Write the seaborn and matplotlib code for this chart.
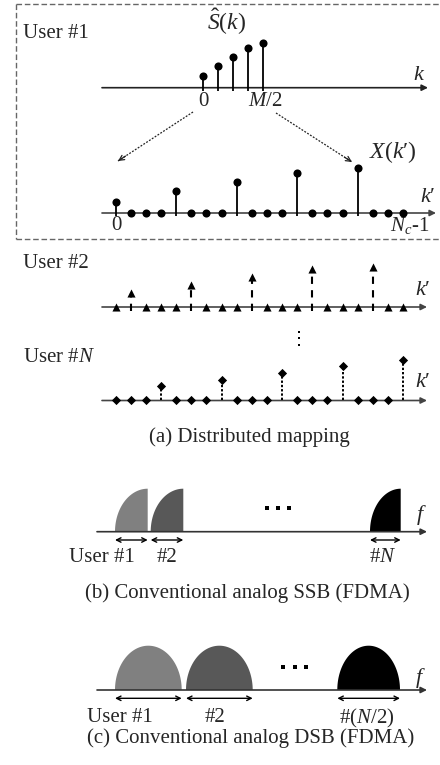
import numpy as np
import pandas as pd
import matplotlib
matplotlib.use("Agg")
import matplotlib.pyplot as plt
import seaborn as sns
from matplotlib.patches import Polygon

sns.set_theme(style="white")
plt.rcParams["font.family"] = ["Liberation Serif", "DejaVu Serif"]
plt.rcParams["mathtext.fontset"] = "custom"
plt.rcParams["mathtext.rm"] = "Liberation Serif"
plt.rcParams["mathtext.it"] = "Liberation Serif:italic"
plt.rcParams["mathtext.bf"] = "Liberation Serif:bold"

# ---------------- data ----------------
S_hat = [0.25, 0.49, 0.69, 0.89, 1.0]          # user #1 symbols k = 0..M/2
user2_vals = [0.31, 0.49, 0.67, 0.84, 0.88]     # user #2 symbols
userN_vals = [0.33, 0.46, 0.61, 0.77, 0.90]     # user #N symbols
n_sub = 20                                       # subcarriers k' = 0..Nc-1
n_users = 4                                      # interleave factor
user_offsets = [0, 1, 3]                         # user #1, #2, #N
ssb_labels = ["User #1", "#2", "#$N$"]
dsb_labels = ["User #1", "#2", "#($N$/2)"]
band_colors = ["#808080", "#585858", "#000000"]

W, H = 440, 765
fig = plt.figure(figsize=(W / 100, H / 100), dpi=100)

ov = fig.add_axes([0, 0, 1, 1])
ov.set_xlim(0, W)
ov.set_ylim(H, 0)
ov.axis("off")

UNIT = 45.0  # pixels per amplitude unit
KP = "$k$\u2032"   # k-prime label


def panel_axes(base_y, x0, dx, above=60, below=15):
    ax = fig.add_axes([0, 1 - (base_y + below) / H, 1, (above + below) / H])
    ax.set_xlim(-x0 / dx, (W - x0) / dx)
    ax.set_ylim(-below / UNIT, above / UNIT)
    ax.axis("off")
    return ax


def spread(vals, offset):
    v = np.zeros(n_sub)
    for i, s in enumerate(vals):
        v[n_users * i + offset] = s
    return v


def stems(ax, idx, vals, marker, size, ls, tick_all=0.0, tick_nz=0.0, lw=1.3):
    df = pd.DataFrame({"k": idx, "v": vals})
    nz = df[df.v > 0]
    ax.vlines(nz.k, -tick_nz / UNIT, nz.v, colors="black", linestyles=ls, lw=lw)
    if tick_all:
        ax.vlines(df.k, -tick_all / UNIT, 0, colors="black", lw=lw)
    sns.scatterplot(data=df, x="k", y="v", marker=marker, s=size, color="black",
                    edgecolor="black", linewidth=0, ax=ax, legend=False,
                    clip_on=False, zorder=4)


def axis_arrow(y, x0, x1, color="#222222"):
    ov.annotate("", xy=(x1, y), xytext=(x0, y),
                arrowprops=dict(arrowstyle="-|>", color=color, lw=1.2,
                                mutation_scale=9, shrinkA=0, shrinkB=0))


# ---------------- (a) distributed mapping ----------------
box = dict(color="#666666", lw=1.0, ls=(0, (4, 2)))
ov.plot([16, 440], [4, 4], **box)
ov.plot([16, 16], [4, 239], **box)
ov.plot([16, 440], [239, 239], **box)

ov.text(23, 33, "User #1", fontsize=15, va="center", ha="left")

# S_hat(k)
axis_arrow(87.7, 102, 428)
axS = panel_axes(87.7, 203, 15)
stems(axS, np.arange(len(S_hat)), S_hat, "o", 34, "-", tick_nz=3.5)
ov.text(227, 22, r"$\hat{S}(k)$", fontsize=17, ha="center", va="center")
ov.text(419, 75, r"$k$", fontsize=16, ha="center", va="center")
ov.text(203, 101, "0", fontsize=15, ha="center", va="center")
ov.text(265, 101, r"$M$/2", fontsize=15, ha="center", va="center")

# mapping arrows
for (x0, y0), (x1, y1) in [((193, 112), (118, 161)), ((276, 113), (352, 162))]:
    ov.plot([x0, x1], [y0, y1], color="#222222", lw=0.9, ls=(0, (1.5, 1.2)))
    dxv, dyv = x1 - x0, y1 - y0
    ov.annotate("", xy=(x1, y1), xytext=(x1 - 0.1 * dxv, y1 - 0.1 * dyv),
                arrowprops=dict(arrowstyle="->", color="#222222", lw=0.9,
                                mutation_scale=9, shrinkA=0, shrinkB=0))

# X(k') for user #1
axis_arrow(213, 102, 436, color="#444444")
axX = panel_axes(213, 115.7, 15.12)
stems(axX, np.arange(n_sub), spread(S_hat, user_offsets[0]), "o", 34, "-",
      tick_all=3.0)
ov.text(393, 152, "$X(k$\u2032$)$", fontsize=17, ha="center", va="center")
ov.text(428, 197, KP, fontsize=16, ha="center", va="center")
ov.text(116, 225, "0", fontsize=15, ha="center", va="center")
ov.text(410, 225, r"$N_c$-1", fontsize=15, ha="center", va="center")

# user #2
ov.text(23, 263, "User #2", fontsize=15, va="center", ha="left")
axis_arrow(307, 102, 427, color="#444444")
ax2 = panel_axes(307, 115.7, 15.12)
stems(ax2, np.arange(n_sub), spread(user2_vals, user_offsets[1]), "^", 34,
      (0, (3.5, 3)), tick_nz=3.5, lw=1.5)
ov.text(423, 290, KP, fontsize=16, ha="center", va="center")

# vertical ellipsis
ov.scatter([299.3] * 3, [331.7, 338.3, 345], marker="s", s=4, color="black", lw=0)

# user #N
ov.text(23, 357, "User #$N$", fontsize=15, va="center", ha="left")
axis_arrow(400.5, 102, 427, color="#444444")
axN = panel_axes(400.5, 115.7, 15.12)
stems(axN, np.arange(n_sub), spread(userN_vals, user_offsets[2]), "D", 22,
      (0, (1.2, 1.0)), lw=1.4)
ov.text(423, 382, KP, fontsize=16, ha="center", va="center")

ov.text(249, 437, "(a) Distributed mapping", fontsize=15, ha="center", va="center")

# ---------------- (b) SSB ----------------
yb = 531.7
axis_arrow(yb, 97, 427, color="#333333")
ssb_bands = [(115, 147.7), (150.7, 183.3), (370, 400.7)]
for (xl, xr), c in zip(ssb_bands, band_colors):
    t = np.linspace(0, np.pi / 2, 60)
    xs = xr - (xr - xl) * np.cos(t)
    ys = yb - 43 * np.sin(t)
    pts = np.column_stack([np.r_[xs, xr], np.r_[ys, yb]])
    ov.add_patch(Polygon(pts, closed=True, facecolor=c, edgecolor="none"))
    ov.annotate("", xy=(xr, 540), xytext=(xl, 540),
                arrowprops=dict(arrowstyle="<->", color="black", lw=1.0,
                                mutation_scale=8, shrinkA=0, shrinkB=0))
ov.text(102, 558, ssb_labels[0], fontsize=15, ha="center", va="center")
ov.text(167, 558, ssb_labels[1], fontsize=15, ha="center", va="center")
ov.text(383, 558, ssb_labels[2], fontsize=15, ha="center", va="center")
ov.scatter([266.7, 278.3, 289.3], [508.3] * 3, marker="s", s=8, color="black", lw=0)
ov.text(421, 515, r"$f$", fontsize=16, ha="center", va="center")
ov.text(247, 593, "(b) Conventional analog SSB (FDMA)", fontsize=15,
        ha="center", va="center")

# ---------------- (c) DSB ----------------
yc = 690
axis_arrow(yc, 97, 427, color="#333333")
dsb_bands = [(115, 181.7), (186, 252.7), (337.3, 400)]
for (xl, xr), c in zip(dsb_bands, band_colors):
    t = np.linspace(0, np.pi, 100)
    xm, a = (xl + xr) / 2, (xr - xl) / 2
    xs = xm - a * np.cos(t)
    ys = yc - 44.3 * np.sin(t)
    ov.add_patch(Polygon(np.column_stack([xs, ys]), closed=True, facecolor=c,
                         edgecolor="none"))
    ov.annotate("", xy=(xr, 698.3), xytext=(xl, 698.3),
                arrowprops=dict(arrowstyle="<->", color="black", lw=1.0,
                                mutation_scale=8, shrinkA=0, shrinkB=0))
ov.text(120, 718, dsb_labels[0], fontsize=15, ha="center", va="center")
ov.text(215, 718, dsb_labels[1], fontsize=15, ha="center", va="center")
ov.text(367, 718, dsb_labels[2], fontsize=15, ha="center", va="center")
ov.scatter([283.3, 295, 306], [667.3] * 3, marker="s", s=8, color="black", lw=0)
ov.text(420, 678, r"$f$", fontsize=16, ha="center", va="center")
ov.text(251, 738, "(c) Conventional analog DSB (FDMA)", fontsize=15,
        ha="center", va="center")

fig.savefig("out.png", dpi=100, facecolor="white")
